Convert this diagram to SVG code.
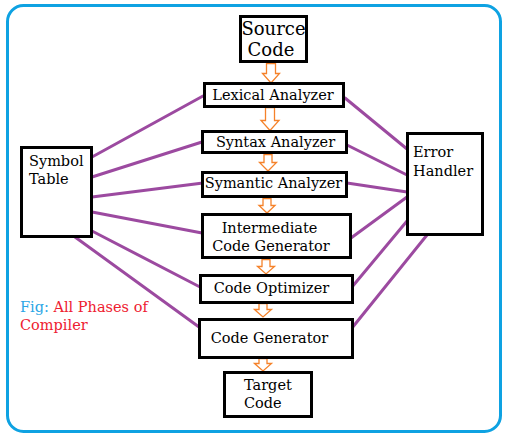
<svg xmlns="http://www.w3.org/2000/svg" width="513" height="447" viewBox="0 0 513 447">
<style>
.box{fill:#fff;stroke:#000;stroke-width:3}
.t{font-family:"DejaVu Serif","Liberation Serif",serif;font-size:14.5px;fill:#000}
.big{font-size:18px}
.red{fill:#ee2030}
.blue{fill:#2aa6e6}
.ln{stroke:#9c4aa0;stroke-width:3;fill:none;stroke-linecap:round}
.arr{fill:#fff;stroke:#f5822a;stroke-width:1.3;stroke-linejoin:miter}
</style>
<rect width="513" height="447" fill="#fff"/>
<rect x="7.5" y="5.5" width="493" height="426" rx="16" fill="none" stroke="#0ea2e2" stroke-width="3"/>
<g id="connectors">
<line class="ln" x1="92" y1="157" x2="203" y2="96"/>
<line class="ln" x1="92" y1="177" x2="202" y2="142"/>
<line class="ln" x1="92" y1="197" x2="203" y2="183"/>
<line class="ln" x1="92" y1="212" x2="202" y2="233"/>
<line class="ln" x1="92" y1="231" x2="200" y2="287"/>
<line class="ln" x1="75" y1="237" x2="199" y2="327"/>
<line class="ln" x1="345" y1="98" x2="407" y2="149"/>
<line class="ln" x1="347" y1="145" x2="407" y2="175"/>
<line class="ln" x1="347" y1="183" x2="407" y2="192"/>
<line class="ln" x1="351" y1="238" x2="407" y2="197"/>
<line class="ln" x1="352" y1="287" x2="407" y2="221"/>
<line class="ln" x1="352" y1="328" x2="427" y2="235"/>
<path class="arr" d="M266.5 63.5h9v10h4l-8.5 9.5l-8.5-9.5h4z"/>
<path class="arr" d="M265.5 107.5h9v13h4.5l-9 10l-9-10h4.5z"/>
<path class="arr" d="M264 154.5h8v8h4.5l-8.5 8.5l-8.5-8.5h4.5z"/>
<path class="arr" d="M263 198.5h8v7h4l-8 7.5l-8-7.5h4z"/>
<path class="arr" d="M262 259.5h8v7h4.5l-8.5 7.5l-8.5-7.5h4.5z"/>
<path class="arr" d="M259 303.5h8v6h4.5l-8.5 7.5l-8.5-7.5h4.5z"/>
<path class="arr" d="M259 358.5h8v5h4.5l-8.5 7.5l-8.5-7.5h4.5z"/>
</g>
<g id="source">
<rect class="box" x="240.5" y="16.5" width="66" height="45"/>
<text class="t big" x="273.5" y="35" text-anchor="middle">Source</text>
<text class="t big" x="271" y="56" text-anchor="middle">Code</text>
</g>
<g id="lexical">
<rect class="box" x="204.5" y="83.5" width="139" height="23"/>
<text class="t" x="273" y="100" text-anchor="middle">Lexical Analyzer</text>
</g>
<g id="syntax">
<rect class="box" x="202.5" y="131.5" width="144" height="21"/>
<text class="t" x="275.5" y="147" text-anchor="middle">Syntax Analyzer</text>
</g>
<g id="semantic">
<rect class="box" x="202.5" y="172.5" width="144" height="24"/>
<text class="t" x="273.5" y="188" text-anchor="middle">Symantic Analyzer</text>
</g>
<g id="intermediate">
<rect class="box" x="202.5" y="214.5" width="148" height="43"/>
<text class="t" x="269.5" y="233" text-anchor="middle">Intermediate</text>
<text class="t" x="271" y="251" text-anchor="middle">Code Generator</text>
</g>
<g id="optimizer">
<rect class="box" x="200.5" y="275.5" width="152" height="27"/>
<text class="t" x="271.5" y="293" text-anchor="middle">Code Optimizer</text>
</g>
<g id="codegen">
<rect class="box" x="199.5" y="319.5" width="153" height="38"/>
<text class="t" x="269.5" y="343" text-anchor="middle">Code Generator</text>
</g>
<g id="target">
<rect class="box" x="224.5" y="372.5" width="87" height="44"/>
<text class="t" x="244" y="390">Target</text>
<text class="t" x="244" y="408">Code</text>
</g>
<g id="symbol">
<rect class="box" x="21.5" y="147.5" width="70" height="89"/>
<text class="t" x="29" y="166">Symbol</text>
<text class="t" x="29" y="184">Table</text>
</g>
<g id="error">
<rect class="box" x="407.5" y="133.5" width="75" height="101"/>
<text class="t" x="413" y="157">Error</text>
<text class="t" x="413" y="176">Handler</text>
</g>
<g id="caption">
<text class="t" x="20" y="312"><tspan class="blue">Fig:</tspan><tspan class="red"> All Phases of</tspan></text>
<text class="t red" x="20" y="330">Compiler</text>
</g>
</svg>
